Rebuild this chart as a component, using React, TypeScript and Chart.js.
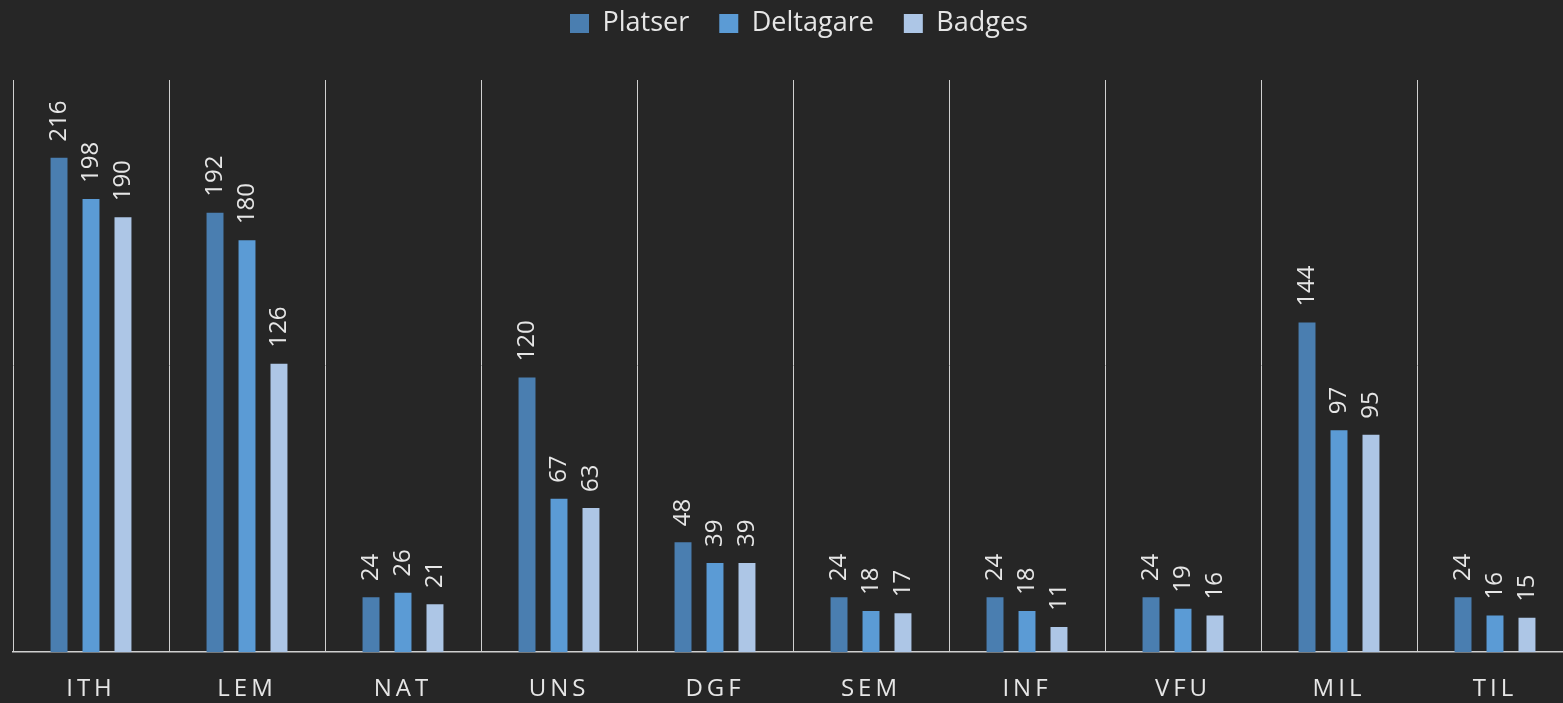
import React, { useEffect, useRef } from "react";
import { Chart, registerables } from "chart.js";

Chart.register(...registerables);

const categories = ["ITH", "LEM", "NAT", "UNS", "DGF", "SEM", "INF", "VFU", "MIL", "TIL"];
const platser = [216, 192, 24, 120, 48, 24, 24, 24, 144, 24];
const deltagare = [198, 180, 26, 67, 39, 18, 18, 19, 97, 16];
const badges = [190, 126, 21, 63, 39, 17, 11, 16, 95, 15];
const seriesNames = ["Platser", "Deltagare", "Badges"];
const seriesColors = ["#4A7EB0", "#5B9BD5", "#ADC6E6"];
const yMax = 250;

const FONT = "'Open Sans', 'Noto Sans', sans-serif";
const TEXT = "#e6e6e6";
const LINE = "#d0d0d0";

const layoutPlugin = {
  id: "layoutTweaks",
  beforeLayout(chart: any) {
    const lg = chart.legend;
    if (lg && !lg.__patched) {
      const orig = lg.fit.bind(lg);
      lg.fit = function () {
        orig();
        this.height = 80;
      };
      lg.__patched = true;
    }
  },
  afterLayout(chart: any) {
    const lg = chart.legend;
    if (lg) {
      lg.top = 10 - 30;
      lg.left += 6;
      lg.right += 6;
    }
    const xs = chart.scales.x;
    if (xs && !xs.__patched) {
      const origDraw = xs.drawLabels.bind(xs);
      xs.drawLabels = function (area: any) {
        const ctx = this.ctx;
        ctx.save();
        (ctx as any).letterSpacing = "4px";
        origDraw(area);
        ctx.restore();
      };
      xs.__patched = true;
    }
  },
};

const dataLabelPlugin = {
  id: "dataLabels",
  afterDatasetsDraw(chart: any) {
    const ctx = chart.ctx;
    ctx.save();
    ctx.fillStyle = TEXT;
    ctx.font = `24px ${FONT}`;
    ctx.textAlign = "left";
    ctx.textBaseline = "middle";
    chart.data.datasets.forEach((ds: any, di: number) => {
      const meta = chart.getDatasetMeta(di);
      meta.data.forEach((el: any, i: number) => {
        const v = ds.data[i];
        ctx.save();
        ctx.translate(el.x + 0.5, el.y - 16);
        ctx.rotate(-Math.PI / 2);
        ctx.fillText(String(v), 0, 0);
        ctx.restore();
      });
    });
    ctx.restore();
  },
};

export default function App() {
  const ref = useRef<HTMLCanvasElement>(null);

  useEffect(() => {
    if (!ref.current) return;
    const seriesData = [platser, deltagare, badges];
    const chart = new Chart(ref.current, {
      type: "bar",
      data: {
        labels: categories,
        datasets: seriesNames.map((name, i) => ({
          label: name,
          data: seriesData[i],
          backgroundColor: seriesColors[i],
          borderWidth: 0,
          barPercentage: 0.53,
          categoryPercentage: 0.615,
        })),
      },
      options: {
        animation: false,
        responsive: false,
        devicePixelRatio: 1,
        layout: { padding: { left: 13, right: 17, top: 0, bottom: -24 } },
        plugins: {
          legend: {
            display: true,
            position: "top",
            labels: {
              color: TEXT,
              boxWidth: 19,
              boxHeight: 19,
              padding: 30,
              font: { family: FONT, size: 27 },
            },
          },
          tooltip: { enabled: false },
          title: { display: false },
        },
        scales: {
          x: {
            grid: {
              display: true,
              color: LINE,
              lineWidth: 1,
              offset: true,
              drawTicks: false,
            },
            border: { display: true, color: LINE, width: 1.5 },
            ticks: {
              color: TEXT,
              padding: 23,
              font: { family: FONT, size: 24 },
            },
          },
          y: {
            display: false,
            min: 0,
            max: yMax,
          },
        },
      },
      plugins: [layoutPlugin, dataLabelPlugin],
    } as any);
    return () => chart.destroy();
  }, []);

  return (
    <div
      style={{
        position: "fixed",
        left: 0,
        top: 0,
        width: 1563,
        height: 703,
        overflow: "hidden",
        background: "#262626",
      }}
    >
      <canvas ref={ref} width={1590} height={703} style={{ display: "block", width: 1590, height: 703 }} />
    </div>
  );
}
